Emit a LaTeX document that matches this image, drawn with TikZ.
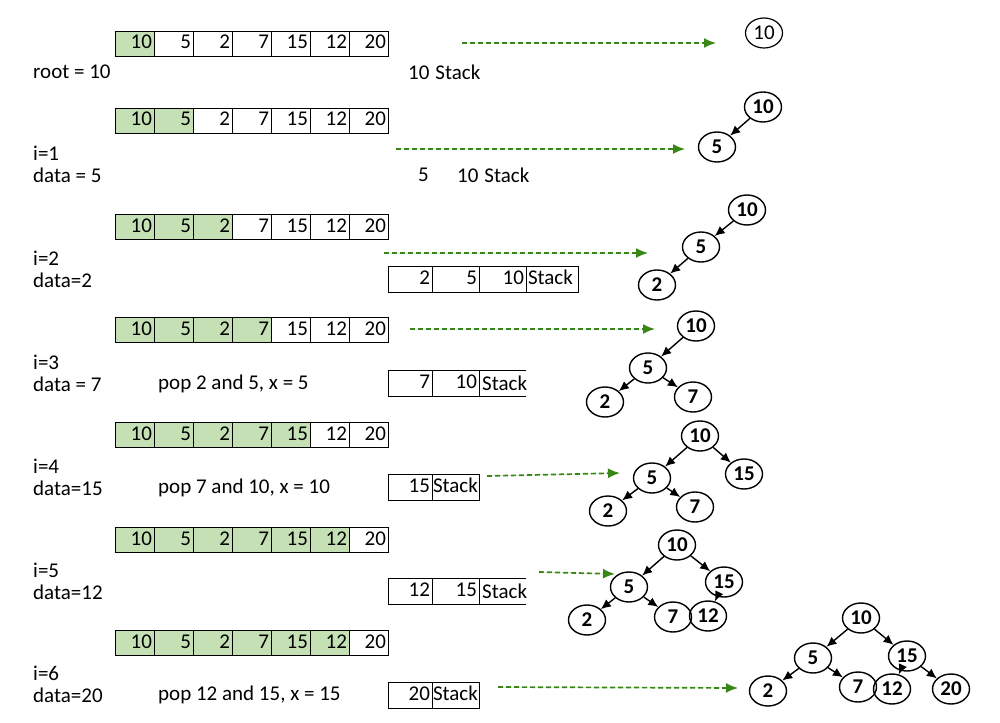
\documentclass[tikz,border=0pt]{standalone}
\usepackage{fontspec}
\setmainfont{Carlito}
\usetikzlibrary{shapes.geometric,arrows.meta}
\begin{document}
\begin{tikzpicture}[x=1pt,y=-1pt,
 fs/.style={font=\fontsize{21}{21}\selectfont},
 cell/.style={draw,fs,minimum width=39pt,minimum height=25pt,inner sep=1pt,align=right,text width=35pt,text height=13pt,text depth=3pt},
 lbl/.style={anchor=west,fs,inner sep=0pt},
 scell/.style={draw,fs,minimum height=26pt,inner sep=1pt,align=right,text height=13pt,text depth=3pt},
 tn/.style={draw,ellipse,line width=1.4pt,minimum width=37pt,minimum height=30pt,inner sep=0pt,font=\bfseries\fontsize{21}{21}\selectfont},
 te/.style={-{Latex[length=10pt,width=9pt]},line width=1.4pt},
 ga/.style={-{Latex[length=12pt,width=10pt]},line width=1.7pt,draw=gline,fill=gline,dash pattern=on 5pt off 3pt}]
\definecolor{gcol}{RGB}{197,224,180}
\definecolor{gline}{RGB}{56,135,22}
\useasboundingbox (0,0) rectangle (1000,722);
% arrays
\foreach \r/\y/\g in {1/43.5/1,2/120.5/2,3/227/3,4/330/4,5/435/5,6/540/6,7/643/6}{
  \foreach \v [count=\i] in {10,5,2,7,15,12,20}{
    \ifnum\i>\g
      \node[cell] (a\r-\i) at (95.5+39*\i,\y) {\v};
    \else
      \node[cell,fill=gcol] (a\r-\i) at (95.5+39*\i,\y) {\v};
    \fi
  }
}
% left labels
\node[lbl] (l1) at (33,72) {root = 10};
\node[lbl] (l2a) at (33,153) {i=1};
\node[lbl] (l2b) at (33,175) {data = 5};
\node[lbl] (l3a) at (33,258) {i=2};
\node[lbl] (l3b) at (33,280) {data=2};
\node[lbl] (l4a) at (33,362) {i=3};
\node[lbl] (l4b) at (33,384) {data = 7};
\node[lbl] (p4) at (158,384) {pop 2 and 5, x = 5};
\node[lbl] (l5a) at (33,466) {i=4};
\node[lbl] (l5b) at (33,488) {data=15};
\node[lbl] (p5) at (158,488) {pop 7 and 10, x = 10};
\node[lbl] (l6a) at (33,570) {i=5};
\node[lbl] (l6b) at (33,592) {data=12};
\node[lbl] (l7a) at (33,673) {i=6};
\node[lbl] (l7b) at (33,695) {data=20};
\node[lbl] (p7) at (158,695) {pop 12 and 15, x = 15};
% stacks
\node[lbl] (s1) at (408,72) {10\hspace{6pt}Stack};
\node[lbl] (s2a) at (418,175) {5};
\node[lbl] (s2b) at (457,175) {10\hspace{6pt}Stack};
\node[scell,minimum width=44pt,text width=40pt] (s3a) at (410,279) {2};
\node[scell,minimum width=47pt,text width=43pt] (s3b) at (455.5,279) {5};
\node[scell,minimum width=47pt,text width=43pt] (s3c) at (502.5,279) {10};
\node[scell,minimum width=52pt,align=left,text width=48pt] (s3d) at (552,279) {Stack};
\node[scell,minimum width=44pt,text width=40pt] (s4a) at (410,383) {7};
\node[scell,minimum width=47pt,text width=43pt] (s4b) at (455.5,383) {10};
\node[lbl] (s4c) at (482,383) {Stack};
\draw (s4b.north east) -- ++(47,0) (s4b.south east) -- ++(47,0);
\node[scell,minimum width=44pt,text width=40pt] (s5a) at (410,487) {15};
\node[scell,minimum width=47pt,align=left,text width=45pt] (s5b) at (455.5,487) {Stack};
\node[scell,minimum width=44pt,text width=40pt] (s6a) at (410,591) {12};
\node[scell,minimum width=47pt,text width=43pt] (s6b) at (455.5,591) {15};
\node[lbl] (s6c) at (482,591) {Stack};
\draw (s6b.north east) -- ++(47,0) (s6b.south east) -- ++(47,0);
\node[scell,minimum width=44pt,text width=40pt] (s7a) at (410,695) {20};
\node[scell,minimum width=47pt,align=left,text width=45pt] (s7b) at (455.5,695) {Stack};
% arrows
\coordinate (g1s) at (462,43); \coordinate (g1e) at (716,43);
\coordinate (g2s) at (396,149); \coordinate (g2e) at (685,149);
\coordinate (g3s) at (384,253); \coordinate (g3e) at (648,253);
\coordinate (g4s) at (410,329); \coordinate (g4e) at (655,329);
\coordinate (g5s) at (487,476); \coordinate (g5e) at (620,473);
\coordinate (g6s) at (539,572); \coordinate (g6e) at (615,574);
\coordinate (g7s) at (498,687); \coordinate (g7e) at (738,688);
\foreach \k in {1,...,7}{\draw[ga] (g\k s) -- (g\k e);}
% trees
\node[tn,font=\fontsize{21}{21}\selectfont,line width=1.2pt] (t1a) at (764,33) {10};
\node[tn] (t2a) at (763,107) {10}; \node[tn] (t2b) at (717,147) {5};
\draw[te] (t2a) -- (t2b);
\node[tn] (t3a) at (747,210) {10}; \node[tn] (t3b) at (701,247) {5}; \node[tn] (t3c) at (657,285) {2};
\draw[te] (t3a) -- (t3b); \draw[te] (t3b) -- (t3c);
\node[tn] (t4a) at (696,326) {10}; \node[tn] (t4b) at (648,368) {5}; \node[tn] (t4c) at (605,402) {2}; \node[tn] (t4d) at (693,397) {7};
\draw[te] (t4a) -- (t4b); \draw[te] (t4b) -- (t4c); \draw[te] (t4b) -- (t4d);
\node[tn] (t5a) at (700,436) {10}; \node[tn] (t5b) at (652,478) {5}; \node[tn] (t5c) at (608,511) {2}; \node[tn] (t5d) at (695,507) {7}; \node[tn] (t5e) at (744,474) {15};
\draw[te] (t5a) -- (t5b); \draw[te] (t5b) -- (t5c); \draw[te] (t5b) -- (t5d); \draw[te] (t5a) -- (t5e);
\node[tn] (t6a) at (677,545) {10}; \node[tn] (t6b) at (629,587) {5}; \node[tn] (t6c) at (587,620) {2}; \node[tn] (t6d) at (673,617) {7}; \node[tn] (t6e) at (724,582) {15}; \node[tn] (t6f) at (708,616) {12};
\draw[te] (t6a) -- (t6b); \draw[te] (t6b) -- (t6c); \draw[te] (t6b) -- (t6d); \draw[te] (t6a) -- (t6e); \draw[te] (t6e) -- (t6f);
\node[tn] (t7a) at (861,618) {10}; \node[tn] (t7b) at (813,658) {5}; \node[tn] (t7c) at (768,691) {2}; \node[tn] (t7d) at (858,687) {7}; \node[tn] (t7e) at (907,656) {15}; \node[tn] (t7f) at (892,689) {12}; \node[tn] (t7g) at (951,689) {20};
\draw[te] (t7a) -- (t7b); \draw[te] (t7b) -- (t7c); \draw[te] (t7b) -- (t7d); \draw[te] (t7a) -- (t7e); \draw[te] (t7e) -- (t7f); \draw[te] (t7e) -- (t7g);
\end{tikzpicture}
\end{document}
